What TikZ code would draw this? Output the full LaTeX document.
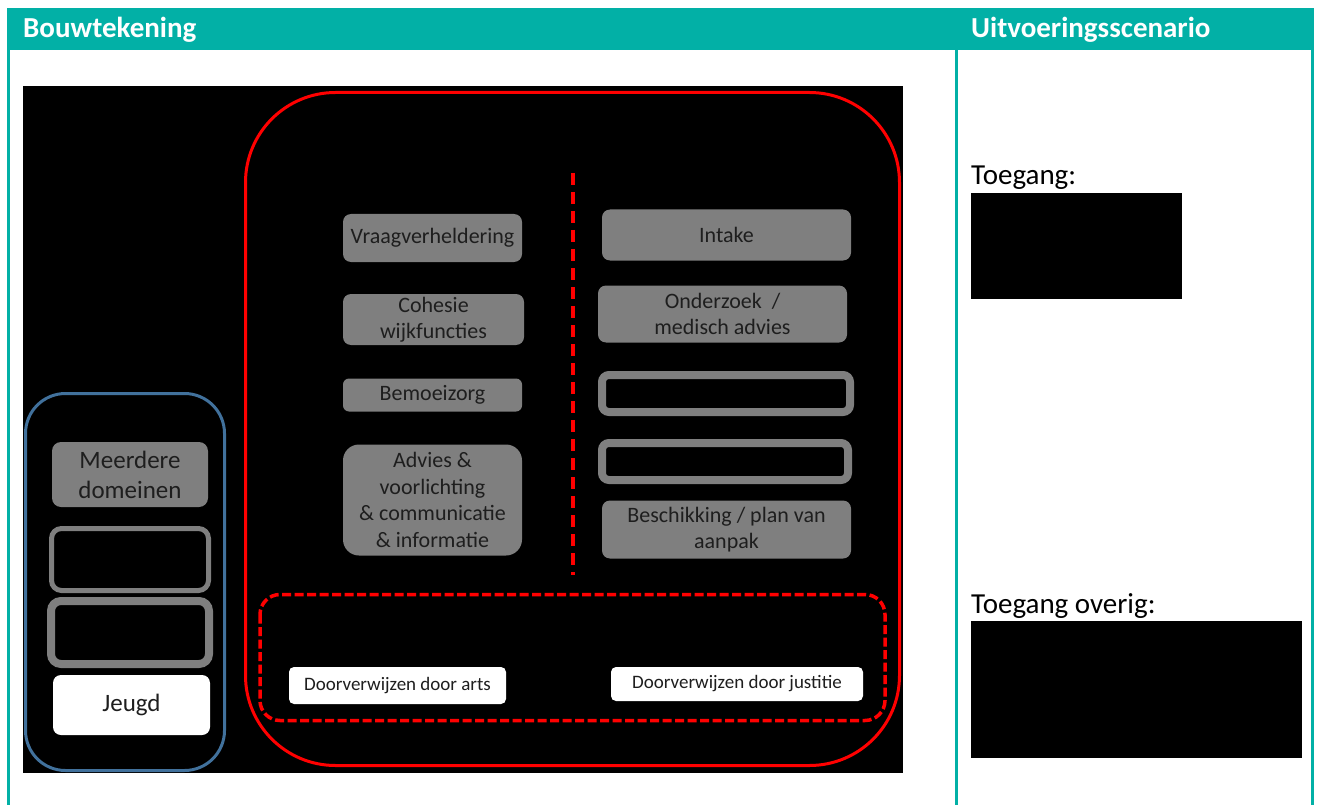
\documentclass[tikz,border=0pt]{standalone}
\usepackage{fontspec}
\setmainfont{Carlito}
\definecolor{hdrteal}{RGB}{2,176,166}
\definecolor{boxgray}{RGB}{127,127,127}
\definecolor{boxtext}{RGB}{30,30,30}
\definecolor{frameblue}{RGB}{65,113,156}
\definecolor{pure red}{RGB}{255,0,0}
\tikzset{
  hdrtext/.style={anchor=base west, inner sep=0pt, text=white, font=\fontsize{29}{34}\selectfont\bfseries},
  bodytext/.style={anchor=base west, inner sep=0pt, text=black, font=\fontsize{29}{34}\selectfont},
  graybox/.style={fill=boxgray, rounded corners=8pt, inner sep=0pt, align=center,
    text=boxtext, font=\fontsize{22}{26.5}\selectfont},
  whitebox/.style={fill=white, rounded corners=5pt, inner sep=0pt, align=center,
    text=boxtext, font=\fontsize{19}{23}\selectfont},
  emptybox/.style={draw=boxgray, rounded corners=7pt, inner sep=0pt},
  redframe/.style={draw=pure red, line width=3pt, rounded corners=90pt},
  reddash/.style={draw=pure red, line width=3.5pt, dash pattern=on 9pt off 3.5pt, rounded corners=20pt},
}
\begin{document}
\begin{tikzpicture}[x=1pt,y=-1pt]
\useasboundingbox (0,0) rectangle (1320,805);
\fill[white] (0,0) rectangle (1320,805);

% table frame: header bar and column rules
\fill[hdrteal] (7,8) rectangle (1313.5,50);
\fill[hdrteal] (7,50) rectangle (10,805);
\fill[hdrteal] (954.5,50) rectangle (957.5,805);
\fill[hdrteal] (1310.5,50) rectangle (1313.5,805);
\node[hdrtext] (h1) at (23,38) {Bouwtekening};
\node[hdrtext] (h2) at (971,38) {Uitvoeringsscenario};

% right column
\node[bodytext] (t1) at (971,185) {Toegang:};
\fill[black] (971,193) rectangle (1182,299);
\node[bodytext] (t2) at (971,613) {Toegang overig:};
\fill[black] (971,621) rectangle (1302,758);

% building drawing
\fill[black] (23,86) rectangle (903,773);

% left group
\draw[frameblue, line width=3pt, rounded corners=40pt] (25.5,393.5) rectangle (224.5,770.5);
\node[graybox, minimum width=156pt, minimum height=65pt, rounded corners=9pt,
  font=\fontsize{25}{30}\selectfont] (md) at (130,474.5) {Meerdere\\domeinen};
\node[emptybox, line width=5pt, minimum width=157pt, minimum height=62pt, rounded corners=10pt] (e1) at (130,559.5) {};
\node[emptybox, line width=8pt, minimum width=158pt, minimum height=63pt, rounded corners=10pt] (e2) at (130,632.5) {};
\node[whitebox, minimum width=157pt, minimum height=60pt, rounded corners=8pt,
  font=\fontsize{25}{30}\selectfont] (jeugd) at (131.5,705) {Jeugd};

% main group
\draw[redframe] (245.5,92.5) rectangle (899.5,765.5);
\coordinate (dtop) at (573,173);
\coordinate (dbot) at (573,575);
\draw[pure red, line width=4pt, dash pattern=on 12pt off 7pt] (dtop) -- (dbot);

\node[graybox, minimum width=179pt, minimum height=48pt] (vraag) at (432.5,238) {Vraagverheldering};
\node[graybox, minimum width=181pt, minimum height=51pt] (coh) at (433.5,319.5) {Cohesie\\wijkfuncties};
\node[graybox, minimum width=179pt, minimum height=33pt, rounded corners=6pt] (bem) at (432.5,395) {Bemoeizorg};
\node[graybox, minimum width=179pt, minimum height=111pt, rounded corners=16pt] (adv) at (432.5,500)
  {Advies \&\\voorlichting\\\& communicatie\\\& informatie};

\node[graybox, minimum width=249pt, minimum height=51pt] (intake) at (726.5,235) {Intake};
\node[graybox, minimum width=249pt, minimum height=57pt] (ond) at (722.5,314) {Onderzoek~~/\\medisch advies};
\node[emptybox, line width=8pt, minimum width=248pt, minimum height=37pt] (e3) at (726,393.5) {};
\node[emptybox, line width=8pt, minimum width=246pt, minimum height=37pt] (e4) at (725,461.5) {};
\node[graybox, minimum width=249pt, minimum height=58pt] (besch) at (726.5,529.5) {Beschikking / plan van\\aanpak};

\draw[reddash] (260,594.5) rectangle (885,720.5);
\node[whitebox, minimum width=217pt, minimum height=37pt] (arts) at (397.5,685.5) {Doorverwijzen door arts};
\node[whitebox, minimum width=252pt, minimum height=34pt] (just) at (737,684) {Doorverwijzen door justitie};
\end{tikzpicture}
\end{document}
